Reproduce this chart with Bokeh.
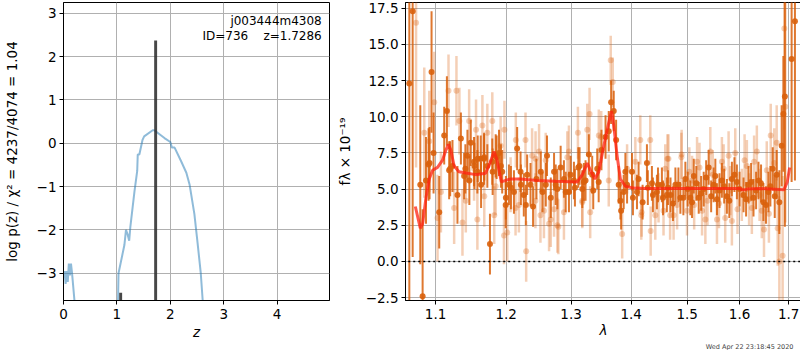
from bokeh.plotting import figure
from bokeh.layouts import row
from bokeh.models import FixedTicker, Label, ColumnDataSource, PrintfTickFormatter, Title
from bokeh.embed import file_html
from bokeh.resources import INLINE

# ---------------- left panel data: log p(z) ----------------
z_lo = [0.0, 0.02, 0.04, 0.06, 0.08, 0.10, 0.12, 0.14, 0.16, 0.21]
logp_lo = [-3.1, -2.95, -3.25, -2.95, -3.2, -2.78, -3.05, -2.78, -3.0, -3.7]
z_hi = [1.02, 1.03, 1.14, 1.17, 1.20, 1.23, 1.25, 1.33, 1.38, 1.39, 1.42, 1.48, 1.51,
        1.67, 1.70, 1.89, 2.00, 2.03, 2.08, 2.20, 2.30, 2.36, 2.45, 2.51, 2.57, 2.61]
logp_hi = [-3.7, -3.0, -2.35, -2.0, -2.1, -2.25, -1.95, -1.1, -0.64, -0.26, -0.26, 0.08, 0.16,
           0.3, 0.3, 0.12, 0.03, -0.1, -0.1, -0.41, -0.68, -0.95, -1.63, -2.3, -3.0, -3.7]
peak_z = [1.07, 1.725]
peak_top = [-3.45, 2.37]

# ---------------- right panel data: spectrum ----------------
lam_a = [1.0650, 1.0694, 1.0795, 1.0826, 1.0871, 1.0906, 1.0946, 1.0973, 1.1050, 1.1118,
         1.1155, 1.1186, 1.1232, 1.1301, 1.1349, 1.1394, 1.1441, 1.1488, 1.1535, 1.1582,
         1.1630, 1.1678, 1.1725, 1.1763, 1.1797, 1.1846, 1.1895, 1.1942, 1.1993, 1.2041,
         1.2116, 1.2164, 1.2215, 1.2264, 1.2315, 1.2366, 1.2405, 1.2457,
         1.2524, 1.2601, 1.2679, 1.2730, 1.2782, 1.2834, 1.2886, 1.2966, 1.3046, 1.3116,
         1.3181, 1.3234, 1.3288, 1.3343, 1.3426, 1.3496, 1.3564, 1.3618, 1.3658, 1.3702,
         1.3742, 1.3786, 1.3827, 1.3871, 1.3929, 1.4014, 1.4100, 1.4198, 1.4274, 1.4362,
         1.4451, 1.4540, 1.4629,
         1.4695, 1.4784, 1.4875, 1.4967, 1.5059, 1.5122, 1.5215, 1.5309, 1.5403, 1.5498,
         1.5561, 1.5656, 1.5753, 1.5850, 1.5948, 1.6079, 1.6179, 1.6278, 1.6378, 1.6478,
         1.6580, 1.6668, 1.6750, 1.6805, 1.6853, 1.6888, 1.6920, 1.7061, 1.7131,
         1.0919, 1.1200, 1.1412, 1.1468, 1.1540, 1.1587, 1.1635, 1.1681, 1.1802, 1.1860,
         1.1923, 1.1996, 1.2071, 1.2220, 1.2295, 1.2550, 1.2620, 1.2756, 1.2914, 1.2993,
         1.3062, 1.3137, 1.3207, 1.3360, 1.3450, 1.3815, 1.3900, 1.4030, 1.4128, 1.4290,
         1.4380, 1.4470, 1.4560, 1.4650, 1.4740, 1.4839, 1.4930, 1.5010, 1.5090, 1.5170,
         1.5260, 1.5355, 1.5450, 1.5530, 1.5610, 1.5700, 1.5800, 1.5900, 1.6000, 1.6130,
         1.6230, 1.6330, 1.6430, 1.6530, 1.6620, 1.6710]
flux_a = [12.3, 17.3, 5.3, -2.4, 5.6, 6.7, 13.1, 7.5, 3.4, 8.7,
          10.4, 6.3, 6.6, 4.6, 8.5, 5.9, 7.3, 8.2, 6.9, 6.2,
          7.1, 7.1, 6.6, 1.2, 6.9, 7.3, 7.5, 6.2, 3.9, 5.3,
          4.8, 7.8, 6.2, 4.6, 6.0, 5.3, 3.8, 5.7,
          6.2, 5.3, 4.4, 6.2, 5.0, 6.5, 5.7, 4.8, 5.6, 6.5,
          5.0, 5.6, 7.4, 6.0, 6.4, 7.7, 8.6, 9.0, 11.0, 10.4,
          8.4, 5.3, 3.5, 4.8, 5.3, 6.2, 4.8, 4.1, 6.8, 5.4,
          4.8, 5.3, 4.6,
          4.6, 5.3, 4.4, 5.7, 4.4, 5.9, 4.4, 5.0, 6.5, 5.3,
          4.3, 5.6, 4.5, 5.7, 5.5, 4.6, 5.3, 4.4, 5.6, 4.1,
          4.8, 6.4, 6.0, 4.1, 8.0, 10.2, 11.4, 14.0, 16.6,
          6.8, 6.4, 6.4, 5.6, 6.6, 7.1, 5.3, 7.2, 6.2, 7.2,
          6.6, 4.4, 5.1, 5.3, 3.9, 4.8, 7.3, 5.3, 4.8, 6.0,
          5.1, 6.6, 5.5, 4.9, 5.5, 4.2, 6.2, 4.4, 5.7, 5.1,
          4.6, 5.3, 4.4, 5.1, 4.0, 5.3, 4.4, 5.0, 4.1, 5.4,
          4.7, 5.8, 4.5, 5.9, 4.9, 5.2, 4.2, 6.0, 5.0, 4.3,
          5.5, 4.9, 5.4, 3.9, 5.2, 4.5]
err_a = [16.0, 17.0, 5.5, 6.0, 3.0, 2.5, 4.2, 2.8, 2.5, 2.0,
         2.4, 2.0, 1.8, 2.0, 1.8, 1.6, 1.8, 1.6, 1.7, 1.5,
         1.6, 1.8, 1.5, 2.1, 1.6, 1.5, 1.6, 1.5, 1.6, 1.4,
         1.5, 1.5, 1.4, 1.5, 1.4, 1.5, 1.4, 1.4,
         1.4, 1.5, 1.4, 1.3, 1.4, 1.5, 1.3, 1.4, 1.3, 1.4,
         1.3, 1.4, 1.4, 1.3, 1.4, 1.4, 1.5, 1.4, 1.5, 1.4,
         1.4, 1.3, 1.3, 1.2, 1.3, 1.3, 1.2, 1.2, 1.3, 1.2,
         1.2, 1.2, 1.2,
         1.2, 1.2, 1.1, 1.2, 1.2, 1.2, 1.1, 1.2, 1.2, 1.2,
         1.1, 1.2, 1.2, 1.2, 1.2, 1.2, 1.3, 1.3, 1.3, 1.3,
         1.4, 1.5, 1.7, 2.2, 2.8, 4.0, 9.0, 8.5, 11.0,
         2.5, 1.9, 1.7, 1.7, 1.6, 1.6, 1.6, 1.6, 1.6, 1.5,
         1.5, 1.5, 1.5, 1.4, 1.4, 1.4, 1.4, 1.4, 1.4, 1.3,
         1.3, 1.3, 1.3, 1.3, 1.4, 1.3, 1.3, 1.2, 1.2, 1.2,
         1.2, 1.2, 1.2, 1.2, 1.2, 1.2, 1.2, 1.2, 1.1, 1.2,
         1.2, 1.2, 1.1, 1.2, 1.2, 1.2, 1.2, 1.2, 1.2, 1.2,
         1.3, 1.3, 1.3, 1.3, 1.4, 1.5]

lam_b = [1.0739, 1.0848, 1.0915, 1.0982, 1.1027, 1.1073, 1.1177, 1.1255, 1.1287, 1.1371,
         1.1418, 1.1465, 1.1535, 1.1582, 1.1654, 1.1725, 1.1797, 1.1846, 1.1919, 1.1968,
         1.2017, 1.2066, 1.2140, 1.2190, 1.2290, 1.2300, 1.2390, 1.2441,
         1.2497, 1.2572, 1.2652, 1.2730, 1.2798, 1.2886, 1.2966, 1.3110, 1.3181, 1.3262,
         1.3300, 1.3310, 1.3492, 1.3618, 1.3651, 1.3685, 1.3845, 1.4072, 1.4158, 1.4181,
         1.4333, 1.4340, 1.4480, 1.4569,
         1.4639, 1.4751, 1.4815, 1.4893, 1.4997, 1.5091, 1.5184, 1.5278, 1.5340, 1.5434,
         1.5561, 1.5656, 1.5720, 1.5786, 1.5850, 1.5916, 1.6045, 1.6145, 1.6245, 1.6345,
         1.6445, 1.6490, 1.6546, 1.6627, 1.6750, 1.6771, 1.6805, 1.6873, 1.6908, 1.6930,
         1.1328, 1.1563, 1.1681, 1.1825, 1.1975, 1.2144, 1.2443, 1.2518, 1.2600, 1.2678,
         1.2782, 1.2940, 1.3181, 1.3452, 1.3929, 1.4175, 1.4422, 1.4600, 1.4658, 1.4688,
         1.4898, 1.5040, 1.5130, 1.5230, 1.5380, 1.5480, 1.5600, 1.5690, 1.5820, 1.5960,
         1.6100, 1.6190, 1.6290, 1.6400, 1.6590, 1.6700]
flux_b = [16.5, 8.9, 8.3, 11.0, 3.0, 4.8, 11.8, 3.7, 11.8, 2.7,
          4.2, 9.7, 6.4, 2.9, 9.4, 8.9, 9.7, 5.2, 8.0, 1.8,
          2.0, 5.3, 3.7, 3.9, 8.4, 0.7, 7.3, 4.2,
          7.6, 3.5, 2.6, 3.6, 2.4, 3.4, 7.6, 8.9, 4.1, 9.1,
          10.2, 3.4, 8.6, 5.6, 13.9, 12.4, 1.9, 6.9, 8.4, 3.4,
          8.4, 2.1, 4.4, 3.5,
          7.1, 3.2, 3.9, 7.2, 3.5, 5.6, 6.9, 3.5, 2.9, 7.6,
          2.9, 6.9, 3.0, 7.3, 2.8, 7.5, 4.6, 6.6, 3.7, 7.6,
          3.5, 2.2, 6.3, 8.7, 8.2, 2.3, 0.0, 0.4, 16.1, 10.7,
          9.7, 9.1, 4.5, 3.2, 9.1, 8.4, 7.1, 3.2, 7.0, 2.9,
          2.5, 7.2, 4.2, 8.7, 6.4, 3.2, 3.2, 6.4, 7.1, 3.2,
          7.4, 6.2, 3.9, 6.5, 4.2, 6.0, 4.0, 6.4, 4.9, 3.6,
          7.0, 4.3, 6.9, 4.6, 3.3, 6.8]
err_b = [10.0, 4.5, 3.5, 3.5, 3.0, 2.8, 2.5, 2.5, 2.4, 2.3,
         2.2, 2.2, 2.2, 2.1, 2.1, 2.0, 2.0, 2.0, 2.0, 2.0,
         2.0, 1.9, 1.9, 1.9, 1.9, 2.1, 1.9, 1.9,
         1.9, 1.9, 1.9, 1.9, 1.9, 1.9, 1.8, 1.8, 1.8, 1.8,
         1.8, 1.8, 1.8, 1.8, 1.7, 1.7, 1.7, 1.7, 1.7, 1.7,
         1.7, 1.7, 1.7, 1.7,
         1.7, 1.7, 1.7, 1.7, 1.7, 1.7, 1.7, 1.7, 1.7, 1.7,
         1.7, 1.7, 1.7, 1.7, 1.7, 1.7, 1.8, 1.8, 1.8, 1.8,
         1.9, 1.9, 2.0, 2.2, 2.6, 2.6, 4.5, 5.5, 7.0, 8.0,
         2.3, 2.1, 2.1, 2.0, 2.0, 1.9, 1.9, 1.9, 1.9, 1.9,
         1.9, 1.8, 1.8, 1.8, 1.7, 1.7, 1.7, 1.7, 1.7, 1.7,
         1.7, 1.7, 1.7, 1.7, 1.7, 1.7, 1.7, 1.7, 1.7, 1.7,
         1.8, 1.8, 1.8, 1.8, 2.0, 2.4]

lam_model = [1.0729, 1.0795, 1.0826, 1.0871, 1.0915, 1.0960, 1.1027, 1.1095, 1.1141, 1.1177,
             1.1209, 1.1255, 1.1322, 1.1441, 1.1558, 1.1700, 1.1763, 1.1822, 1.1861, 1.1929,
             1.1993, 1.2066, 1.2215, 1.2466, 1.2756, 1.3100, 1.3181, 1.3262, 1.3315, 1.3386,
             1.3452, 1.3535, 1.3618, 1.3664, 1.3702, 1.3759, 1.3814, 1.3900, 1.4014, 1.4248,
             1.5000, 1.6000, 1.6050, 1.6100, 1.6150, 1.6400, 1.6900, 1.6970, 1.7020]
flux_model = [3.8, 2.3, 2.6, 4.4, 5.7, 6.3, 6.5, 7.0, 7.7, 8.1,
              7.7, 6.6, 6.2, 6.1, 6.0, 6.1, 6.8, 7.6, 7.1, 5.5,
              5.6, 5.7, 5.7, 5.6, 5.55, 5.5, 6.0, 6.8, 6.3, 5.7,
              6.2, 8.0, 9.6, 10.4, 9.4, 7.3, 5.7, 5.2, 5.1, 5.05,
              5.05, 5.05, 4.95, 4.95, 5.0, 5.05, 4.95, 5.5, 6.5]

zero_x = [1.0, 1.8]
zero_y = [0.0, 0.0]

FONT = "DejaVu Sans"
GRID = "#b0b0b0"
ORANGE = "#d9600c"
FS = "13.5px"


def style(p):
    p.outline_line_color = "black"
    p.outline_line_width = 1
    p.outline_line_alpha = 1
    for ax in (p.xaxis[0], p.yaxis[0]):
        ax.major_label_text_font = FONT
        ax.major_label_text_font_size = FS
        ax.major_label_text_color = "black"
        ax.axis_label_text_font = FONT
        ax.axis_label_text_font_size = FS
        ax.axis_label_text_font_style = "normal"
        ax.axis_label_text_color = "black"
        ax.major_tick_in = 0
        ax.major_tick_out = 4
        ax.minor_tick_in = 0
        ax.minor_tick_out = 0
        ax.axis_line_color = "black"
        ax.major_tick_line_color = "black"
        ax.major_label_standoff = 3
    p.xaxis[0].major_label_standoff = 4
    for g in (p.xgrid[0], p.ygrid[0]):
        g.grid_line_color = GRID
        g.grid_line_width = 1
        g.grid_line_alpha = 1
    p.background_fill_color = "white"
    p.border_fill_color = "white"


FRAME_H = 298

# ---------------- left figure ----------------
p1 = figure(frame_width=266, frame_height=FRAME_H, x_range=(0, 4.98), y_range=(-3.63, 3.25),
            output_backend="svg", toolbar_location=None,
            min_border_left=62, min_border_right=4, min_border_top=2, min_border_bottom=44)
style(p1)
p1.xaxis.ticker = FixedTicker(ticks=[0, 1, 2, 3, 4])
p1.yaxis.ticker = FixedTicker(ticks=[-3, -2, -1, 0, 1, 2, 3])
p1.yaxis.major_label_overrides = {-3: "\u22123", -2: "\u22122", -1: "\u22121", 0: "0", 1: "1", 2: "2", 3: "3"}
p1.xaxis.axis_label = "z"
p1.xaxis.axis_label_text_font_style = "italic"
p1.yaxis.axis_label = "log p(z) / \u03c7\u00b2 = 4237/4074 = 1.04"
p1.yaxis.axis_label_standoff = 14
p1.xaxis.axis_label_standoff = 2

p1.line(z_lo, logp_lo, line_color="#1f77b4", line_alpha=0.5, line_width=2)
p1.line(z_hi, logp_hi, line_color="#1f77b4", line_alpha=0.5, line_width=2)
p1.vbar(x=peak_z, top=peak_top, bottom=-5, width=0.055, fill_color="#333333",
        line_color=None, fill_alpha=0.9)

p1.add_layout(Label(x=4.835, y=2.83, text="j003444m4308", text_align="right",
                    text_baseline="middle", text_font=FONT, text_font_size="12px",
                    text_color="black"))
p1.add_layout(Label(x=4.835, y=2.48, text="ID=736\u00a0\u00a0\u00a0\u00a0z=1.7286", text_align="right",
                    text_baseline="middle", text_font=FONT, text_font_size="12px",
                    text_color="black"))

# ---------------- right figure ----------------
p2 = figure(frame_width=396, frame_height=FRAME_H, x_axis_type="log", x_range=(1.06, 1.727),
            y_range=(-2.7, 17.9),
            output_backend="svg", toolbar_location=None,
            min_border_left=64, min_border_right=2, min_border_top=2, min_border_bottom=44)
style(p2)
p2.xaxis.ticker = FixedTicker(ticks=[1.1, 1.2, 1.3, 1.4, 1.5, 1.6, 1.7])
p2.xaxis.formatter = PrintfTickFormatter(format="%.1f")
p2.yaxis.ticker = FixedTicker(ticks=[-2.5, 0, 2.5, 5, 7.5, 10, 12.5, 15, 17.5])
p2.yaxis.major_label_overrides = {-2.5: "\u22122.5", 0: "0.0", 2.5: "2.5", 5: "5.0", 7.5: "7.5",
                                  10: "10.0", 12.5: "12.5", 15: "15.0", 17.5: "17.5"}
p2.xaxis.axis_label = "\u03bb"
p2.xaxis.axis_label_text_font_style = "italic"
p2.yaxis.axis_label = "f\u03bb \u00d7 10\u207b\u00b9\u2079"
p2.yaxis.axis_label_standoff = 10
p2.xaxis.axis_label_standoff = 0

src_b = ColumnDataSource(dict(x=lam_b, y=flux_b,
                              lo=[f - e for f, e in zip(flux_b, err_b)],
                              hi=[f + e for f, e in zip(flux_b, err_b)]))
src_a = ColumnDataSource(dict(x=lam_a, y=flux_a,
                              lo=[f - e for f, e in zip(flux_a, err_a)],
                              hi=[f + e for f, e in zip(flux_a, err_a)]))

p2.segment(x0="x", y0="lo", x1="x", y1="hi", source=src_b, line_color=ORANGE,
           line_alpha=0.3, line_width=2.5)
p2.scatter(x="x", y="y", source=src_b, size=6, fill_color=ORANGE, line_color=None,
           fill_alpha=0.3)
p2.segment(x0="x", y0="lo", x1="x", y1="hi", source=src_a, line_color=ORANGE,
           line_alpha=0.85, line_width=2)
p2.scatter(x="x", y="y", source=src_a, size=6, fill_color=ORANGE, line_color=None,
           fill_alpha=0.9)
p2.line(lam_model, flux_model, line_color="#ff2010", line_alpha=0.75, line_width=3)
p2.line(zero_x, zero_y, line_color="black", line_dash="2 3", line_width=1.5)

stamp = Title(text="Wed Apr 22 23:18:45 2020", align="right", text_font=FONT,
              text_font_size="6.5px", text_font_style="normal", standoff=0, offset=8)
p2.add_layout(stamp, "below")

layout = row(p1, p2)
open("out.html", "w").write(file_html(layout, INLINE))
